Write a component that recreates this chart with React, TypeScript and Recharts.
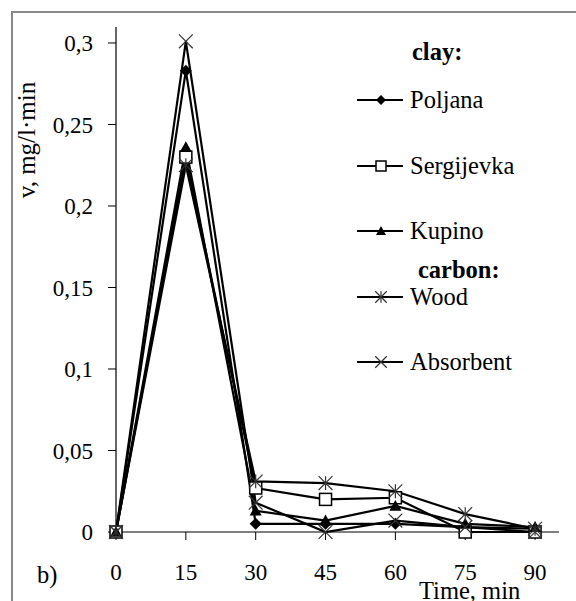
import React from 'react';
import { LineChart, Line, XAxis, YAxis, Customized } from 'recharts';

const times = [0, 15, 30, 45, 60, 75, 90];
const poljana = [0, 0.283, 0.005, 0.005, 0.005, 0.003, 0.002];
const sergijevka = [0, 0.23, 0.027, 0.02, 0.021, 0, 0];
const kupino = [0, 0.236, 0.013, 0.007, 0.016, 0.005, 0.003];
const wood = [0, 0.225, 0.031, 0.03, 0.025, 0.011, 0.002];
const absorbent = [0, 0.301, 0.018, 0, 0.007, 0.003, 0];

const xTicks = [0, 15, 30, 45, 60, 75, 90];
const yTicks = [0, 0.05, 0.1, 0.15, 0.2, 0.25, 0.3];

const series = [
  { key: 'Poljana', values: poljana, marker: 'diamond' },
  { key: 'Sergijevka', values: sergijevka, marker: 'square' },
  { key: 'Kupino', values: kupino, marker: 'triangle' },
  { key: 'Wood', values: wood, marker: 'star' },
  { key: 'Absorbent', values: absorbent, marker: 'cross' },
];

const data = times.map((t, i) => {
  const row: any = { t };
  series.forEach((s) => { row[s.key] = s.values[i]; });
  return row;
});

const FONT = 'Liberation Serif';

const Marker = ({ kind, cx, cy, size }: { kind: string; cx: number; cy: number; size: number }) => {
  const h = size / 2;
  if (kind === 'diamond') {
    return <polygon points={`${cx},${cy - h} ${cx + h},${cy} ${cx},${cy + h} ${cx - h},${cy}`} fill="#000" />;
  }
  if (kind === 'square') {
    return <rect x={cx - h} y={cy - h} width={size} height={size} fill="#fff" stroke="#000" strokeWidth={1.5} />;
  }
  if (kind === 'triangle') {
    return <polygon points={`${cx},${cy - h} ${cx + h},${cy + h * 0.8} ${cx - h},${cy + h * 0.8}`} fill="#000" />;
  }
  // star and cross are drawn a little bigger, like the thin Excel marks
  const k = h * 1.15;
  if (kind === 'star') {
    return (
      <g stroke="#333" strokeWidth={1.2}>
        <line x1={cx - k} y1={cy - k} x2={cx + k} y2={cy + k} />
        <line x1={cx - k} y1={cy + k} x2={cx + k} y2={cy - k} />
        <line x1={cx} y1={cy - k} x2={cx} y2={cy + k} />
      </g>
    );
  }
  return (
    <g stroke="#333" strokeWidth={1.2}>
      <line x1={cx - k} y1={cy - k} x2={cx + k} y2={cy + k} />
      <line x1={cx - k} y1={cy + k} x2={cx + k} y2={cy - k} />
    </g>
  );
};

const legendRows = [
  { key: 'Poljana', y: 100 },
  { key: 'Sergijevka', y: 166 },
  { key: 'Kupino', y: 231 },
  { key: 'Wood', y: 297 },
  { key: 'Absorbent', y: 362 },
];

const textStyle = { fontFamily: FONT, fontSize: 24.5, fill: '#000' };

const Annotations = () => (
  <g style={textStyle}>
    <text x={412} y={60} style={{ ...textStyle, fontWeight: 'bold' }}>clay:</text>
    <text x={418} y={278} style={{ ...textStyle, fontWeight: 'bold' }}>carbon:</text>
    {legendRows.map((r) => {
      const s = series.find((x) => x.key === r.key)!;
      return (
        <g key={r.key}>
          <line x1={357} y1={r.y} x2={403} y2={r.y} stroke="#000" strokeWidth={2} />
          <Marker kind={s.marker} cx={381} cy={r.y} size={10} />
          <text x={410} y={r.y + 8} style={textStyle}>{r.key}</text>
        </g>
      );
    })}
    <text x={35} y={140} textAnchor="middle" transform="rotate(-90 35 140)" style={{ ...textStyle, fontSize: 25 }}>v, mg/l·min</text>
    <text x={37} y={583} style={textStyle}>b)</text>
    <text x={419} y={599} style={textStyle}>Time, min</text>
  </g>
);

const fmt = (v: number) => String(v).replace('.', ',');

export default function App() {
  return (
    <div style={{ position: 'absolute', left: 0, top: 0, width: 576, height: 601, background: '#fff', overflow: 'hidden', fontFamily: FONT }}>
      <div style={{ position: 'absolute', left: 11, top: 11, width: 700, height: 700, borderTop: '2px solid #8a8a8a', borderLeft: '2px solid #8a8a8a' }} />
      <LineChart width={576} height={601} data={data} margin={{ top: 27, right: 17, left: 0, bottom: 29 }} style={{ fontFamily: FONT }}>
        <XAxis
          dataKey="t"
          type="number"
          domain={[0, 95.14]}
          ticks={xTicks}
          height={40}
          tickSize={8}
          tickMargin={24}
          axisLine={{ stroke: '#000', strokeWidth: 1.2 }}
          tickLine={{ stroke: '#000' }}
          tick={{ fill: '#000', fontSize: 23, fontFamily: FONT }}
        />
        <YAxis
          type="number"
          domain={[0, 0.3098]}
          ticks={yTicks}
          width={116}
          tickSize={8}
          tickMargin={15}
          tickFormatter={fmt}
          axisLine={{ stroke: '#000', strokeWidth: 1.2 }}
          tickLine={{ stroke: '#000' }}
          tick={{ fill: '#000', fontSize: 23, fontFamily: FONT }}
        />
        {series.map((s) => (
          <Line
            key={s.key}
            dataKey={s.key}
            type="linear"
            stroke="#000"
            strokeWidth={2.2}
            isAnimationActive={false}
            dot={(p: any) => (
              <Marker key={`${s.key}-${p.index}`} kind={s.marker} cx={p.cx} cy={p.cy} size={12} />
            )}
            activeDot={false}
          />
        ))}
        <Customized component={Annotations} />
      </LineChart>
    </div>
  );
}
